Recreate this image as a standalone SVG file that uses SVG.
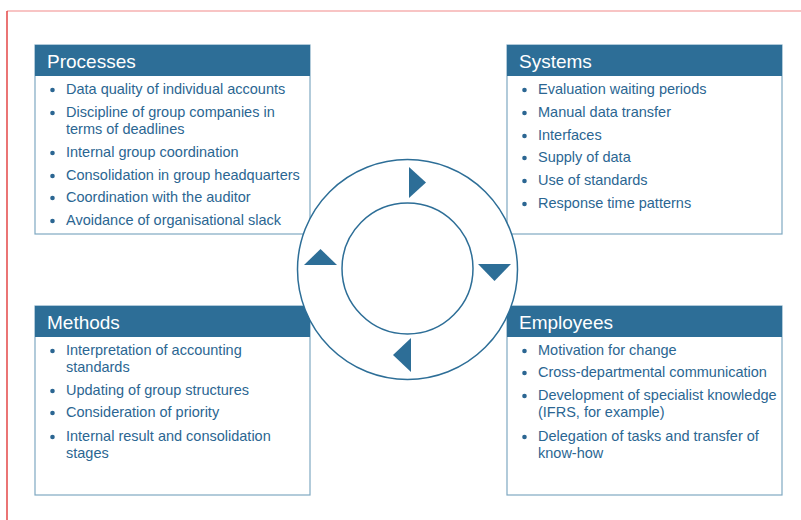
<svg xmlns="http://www.w3.org/2000/svg" width="801" height="520" viewBox="0 0 801 520">
  <style>
    .box { fill: #ffffff; stroke: #7fa8c2; stroke-width: 1.2; }
    .head { fill: #2d6e97; }
    .title { font-family: "Liberation Sans", Arial, sans-serif; font-size: 19px; fill: #ffffff; }
    .item { font-family: "Liberation Sans", Arial, sans-serif; font-size: 14.5px; fill: #2b6692; }
    .dot { fill: #2b6692; }
    .ring { fill: #ffffff; stroke: #2d6e97; stroke-width: 1.5; }
    .arrow { fill: #2d6e97; }
  </style>
  <rect width="801" height="520" fill="#ffffff"/>
  <!-- page frame -->
  <line x1="7" y1="11" x2="801" y2="11" stroke="#f28a8a" stroke-width="1.2"/>
  <line x1="7" y1="11" x2="7" y2="520" stroke="#e23a3a" stroke-width="1.4"/>

  <g id="processes">
    <rect class="box" x="35" y="45" width="275" height="189"/>
    <rect class="head" x="35" y="45" width="275" height="31"/>
    <text class="title" x="47" y="68">Processes</text>
    <g class="dot">
      <circle cx="52.5" cy="90" r="2.3"/><circle cx="52.5" cy="113" r="2.3"/><circle cx="52.5" cy="153" r="2.3"/>
      <circle cx="52.5" cy="176" r="2.3"/><circle cx="52.5" cy="198" r="2.3"/><circle cx="52.5" cy="221" r="2.3"/>
    </g>
    <text class="item" x="66" y="94">Data quality of individual accounts</text>
    <text class="item" x="66" y="117">Discipline of group companies in</text>
    <text class="item" x="66" y="134">terms of deadlines</text>
    <text class="item" x="66" y="157">Internal group coordination</text>
    <text class="item" x="66" y="180">Consolidation in group headquarters</text>
    <text class="item" x="66" y="202">Coordination with the auditor</text>
    <text class="item" x="66" y="225">Avoidance of organisational slack</text>
  </g>

  <g id="systems">
    <rect class="box" x="507" y="45" width="275" height="189"/>
    <rect class="head" x="507" y="45" width="275" height="31"/>
    <text class="title" x="519" y="68">Systems</text>
    <g class="dot">
      <circle cx="524.5" cy="90" r="2.3"/><circle cx="524.5" cy="113" r="2.3"/><circle cx="524.5" cy="136" r="2.3"/>
      <circle cx="524.5" cy="158" r="2.3"/><circle cx="524.5" cy="181" r="2.3"/><circle cx="524.5" cy="204" r="2.3"/>
    </g>
    <text class="item" x="538" y="94">Evaluation waiting periods</text>
    <text class="item" x="538" y="117">Manual data transfer</text>
    <text class="item" x="538" y="140">Interfaces</text>
    <text class="item" x="538" y="162">Supply of data</text>
    <text class="item" x="538" y="185">Use of standards</text>
    <text class="item" x="538" y="208">Response time patterns</text>
  </g>

  <g id="methods">
    <rect class="box" x="35" y="306" width="275" height="189"/>
    <rect class="head" x="35" y="306" width="275" height="31"/>
    <text class="title" x="47" y="329">Methods</text>
    <g class="dot">
      <circle cx="52.5" cy="351" r="2.3"/><circle cx="52.5" cy="391" r="2.3"/><circle cx="52.5" cy="413" r="2.3"/>
      <circle cx="52.5" cy="437" r="2.3"/>
    </g>
    <text class="item" x="66" y="355">Interpretation of accounting</text>
    <text class="item" x="66" y="372">standards</text>
    <text class="item" x="66" y="395">Updating of group structures</text>
    <text class="item" x="66" y="417">Consideration of priority</text>
    <text class="item" x="66" y="441">Internal result and consolidation</text>
    <text class="item" x="66" y="458">stages</text>
  </g>

  <g id="employees">
    <rect class="box" x="507" y="306" width="275" height="189"/>
    <rect class="head" x="507" y="306" width="275" height="31"/>
    <text class="title" x="519" y="329">Employees</text>
    <g class="dot">
      <circle cx="524.5" cy="351" r="2.3"/><circle cx="524.5" cy="373" r="2.3"/><circle cx="524.5" cy="396" r="2.3"/>
      <circle cx="524.5" cy="437" r="2.3"/>
    </g>
    <text class="item" x="538" y="355">Motivation for change</text>
    <text class="item" x="538" y="377">Cross-departmental communication</text>
    <text class="item" x="538" y="400">Development of specialist knowledge</text>
    <text class="item" x="538" y="417">(IFRS, for example)</text>
    <text class="item" x="538" y="441">Delegation of tasks and transfer of</text>
    <text class="item" x="538" y="458">know-how</text>
  </g>

  <!-- central cycle -->
  <g id="cycle">
    <circle class="ring" cx="407.5" cy="269.5" r="110"/>
    <circle class="ring" cx="407.5" cy="268.5" r="65.5"/>
    <g id="connectors">
      <polygon class="arrow" points="409,167 426,182.5 409,198"/>
      <polygon class="arrow" points="478,264 511,264 494.5,281"/>
      <polygon class="arrow" points="411,338 411,372 393,355"/>
      <polygon class="arrow" points="304,265 337,265 320.5,249"/>
    </g>
  </g>
</svg>
